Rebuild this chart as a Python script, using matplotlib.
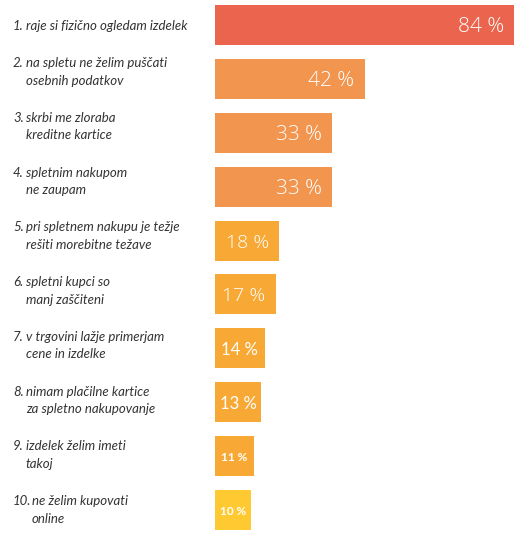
import matplotlib
matplotlib.use("Agg")
import matplotlib.pyplot as plt
import matplotlib.transforms as mtransforms
import matplotlib.patheffects as pe

# podatki
razlogi = [
    ("1.", ["raje si fizično ogledam izdelek"]),
    ("2.", ["na spletu ne želim puščati", "osebnih podatkov"]),
    ("3.", ["skrbi me zloraba", "kreditne kartice"]),
    ("4.", ["spletnim nakupom", "ne zaupam"]),
    ("5.", ["pri spletnem nakupu je težje", "rešiti morebitne težave"]),
    ("6.", ["spletni kupci so", "manj zaščiteni"]),
    ("7.", ["v trgovini lažje primerjam", "cene in izdelke"]),
    ("8.", ["nimam plačilne kartice", "za spletno nakupovanje"]),
    ("9.", ["izdelek želim imeti", "takoj"]),
    ("10.", ["ne želim kupovati", "online"]),
]
odstotki = [84, 42, 33, 33, 18, 17, 14, 13, 11, 10]
barve = ["#EB644E", "#F2954F", "#F2954F", "#F2954F",
         "#F8A935", "#F8A935", "#F8A935", "#F8A935", "#F8A935", "#FFC932"]

W, H = 528, 535
fig = plt.figure(figsize=(W / 100, H / 100), dpi=100)
fig.patch.set_facecolor("white")

# os za stolpce: x od 215 do 514 px, en stolpec na 53.9 px
korak = 53.9
y_top = 25 - korak / 2
y_bot = 25 + 9 * korak + korak / 2
ax = fig.add_axes([215 / W, 1 - y_bot / H, 299 / W, (y_bot - y_top) / H])
ax.set_xlim(0, 84)
ax.set_ylim(9.5, -0.5)
ax.axis("off")

font = "Lato"
pos = list(range(len(odstotki)))
bars = ax.barh(pos, odstotki, height=40 / korak, color=barve, linewidth=0)
for b in bars:
    b.set_path_effects([pe.SimplePatchShadow(offset=(0, 0), shadow_rgbFace="#000000", alpha=0.04),
                        pe.Normal()])

# vrednosti v stolpcih
for i, v in enumerate(odstotki):
    txt = f"{v} %"
    if v >= 17:
        ax.text(v - 10 * 84 / 299, i, txt, ha="right", va="center_baseline",
                color="white", fontsize=15 if v > 20 else 14,
                fontfamily="Open Sans", fontweight="light")
    elif v >= 13:
        ax.text(v / 2, i, txt, ha="center", va="center_baseline", color="white",
                fontsize=12, fontfamily=font, fontweight="normal")
    else:
        ax.text(v / 2, i, txt, ha="center", va="center_baseline", color="white",
                fontsize=8.5, fontfamily=font, fontweight="bold")

# opisi na levi
tr = mtransforms.blended_transform_factory(fig.transFigure, ax.transData)
for i, (st, vrstice) in enumerate(razlogi):
    if len(vrstice) == 1:
        ys = [i]
    else:
        off = (-8 + 0.85 * (i - 1)) / korak
        yc = i + off
        d = 17.5 / korak / 2
        ys = [yc - d, yc + d]
    x_st = 13 / W
    x_tx = (26 if len(st) == 2 else 32) / W
    ax.text(x_st, ys[0], st, transform=tr, ha="left", va="center_baseline",
            fontsize=9.5, fontfamily=font, style="italic", color="#333333")
    for y, line in zip(ys, vrstice):
        ax.text(x_tx, y, line, transform=tr, ha="left", va="center_baseline",
                fontsize=9.5, fontfamily=font, style="italic", color="#333333")

fig.savefig("out.png", dpi=100, facecolor="white")
